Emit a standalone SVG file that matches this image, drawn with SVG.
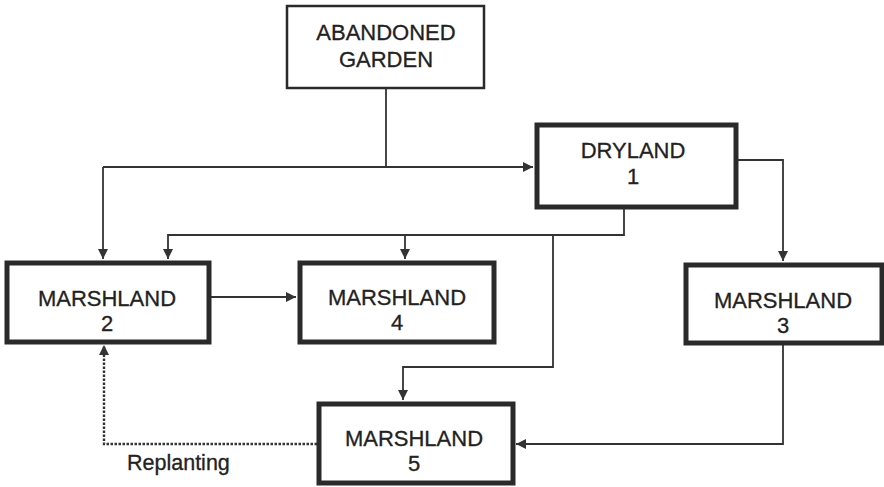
<svg xmlns="http://www.w3.org/2000/svg" width="884" height="487" viewBox="0 0 884 487">
<style>
.thin{fill:#fff;stroke:#2a2a2a;stroke-width:2.5}
.thick{fill:#fff;stroke:#2a2a2a;stroke-width:5}
text{font-family:"Liberation Sans",Arial,sans-serif;font-size:22px;fill:#222;stroke:#222;stroke-width:0.3;text-anchor:middle}
.lbl{font-size:21.5px;text-anchor:start}
.c{fill:none;stroke:#333;stroke-width:1.8}
.d{fill:none;stroke:#333;stroke-width:2.4;stroke-dasharray:2.5 1.5}
</style>
<defs>
<marker id="ah" viewBox="0 0 10 10" refX="10" refY="5" markerWidth="11" markerHeight="10" markerUnits="userSpaceOnUse" orient="auto">
<path d="M0,0 L10,5 L0,10 z" fill="#333"/>
</marker>
</defs>
<rect width="884" height="487" fill="#fff"/>
<g id="connectors">
<path class="c" d="M386,88 V167"/>
<path class="c" d="M103,167 H533" marker-end="url(#ah)"/>
<path class="c" d="M103,167 V259" marker-end="url(#ah)"/>
<path class="c" d="M737,160 H783 V261" marker-end="url(#ah)"/>
<path class="c" d="M624,208 V235 H168 V259" marker-end="url(#ah)"/>
<path class="c" d="M405,235 V259" marker-end="url(#ah)"/>
<path class="c" d="M553,235 V367 H403 V400" marker-end="url(#ah)"/>
<path class="c" d="M210,297 H296" marker-end="url(#ah)"/>
<path class="c" d="M783,343 V444 H516" marker-end="url(#ah)"/>
<path class="d" d="M317,444 H104 V345" marker-end="url(#ah)"/>
<text class="lbl" x="127" y="470">Replanting</text>
</g>
<g id="garden"><rect class="thin" x="287" y="6" width="197" height="82"/><text x="386" y="40">ABANDONED</text><text x="386" y="67">GARDEN</text></g>
<g id="dryland1"><rect class="thick" x="537" y="125" width="199" height="82"/><text x="633" y="158">DRYLAND</text><text x="633" y="184">1</text></g>
<g id="marsh2"><rect class="thick" x="7" y="263" width="202" height="79"/><text x="107" y="306">MARSHLAND</text><text x="107" y="331">2</text></g>
<g id="marsh4"><rect class="thick" x="300" y="263" width="194" height="79"/><text x="397" y="305">MARSHLAND</text><text x="397" y="330">4</text></g>
<g id="marsh3"><rect class="thick" x="686" y="265" width="196" height="78"/><text x="783" y="308">MARSHLAND</text><text x="783" y="333">3</text></g>
<g id="marsh5"><rect class="thick" x="319" y="404" width="194" height="79"/><text x="414" y="446">MARSHLAND</text><text x="414" y="471">5</text></g>
</svg>
